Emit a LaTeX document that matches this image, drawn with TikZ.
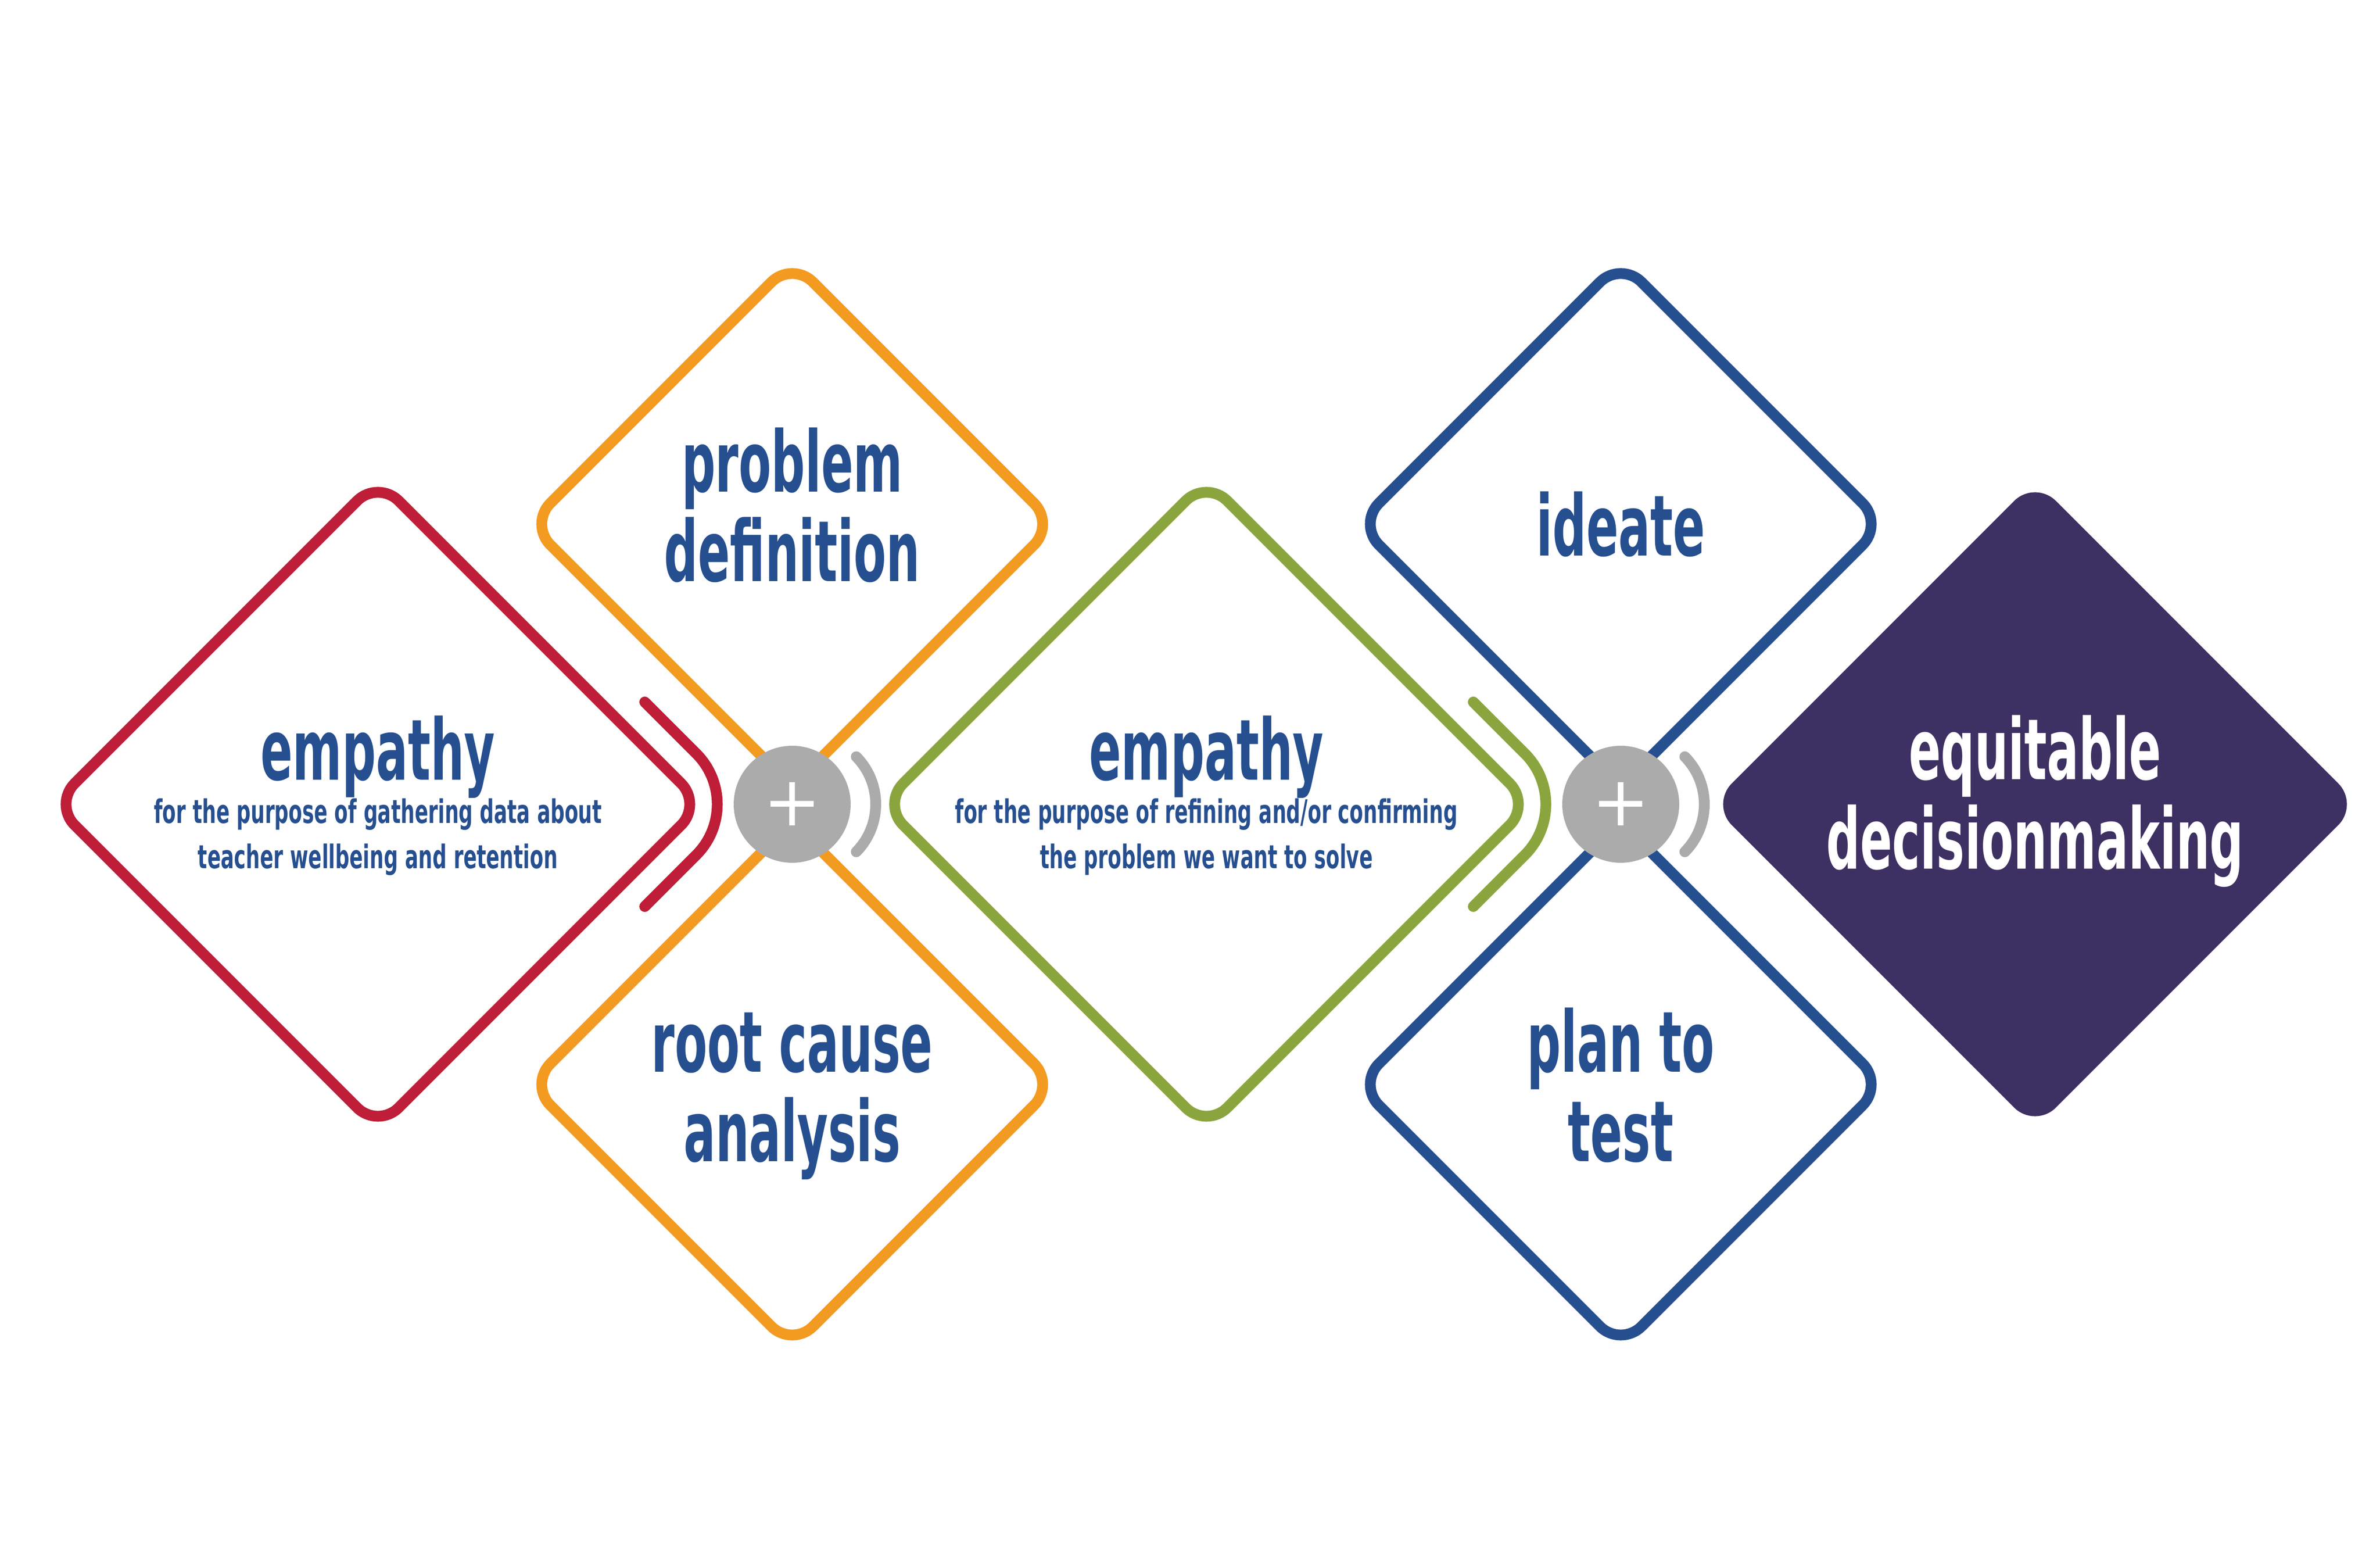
\documentclass[tikz,border=0pt]{standalone}
\usepackage{fontspec}
\usepackage{tikz}
\usetikzlibrary{shapes,positioning}
\newfontfamily\headfont[FakeStretch=0.56]{DejaVu Sans}
\newfontfamily\subfont[FakeStretch=0.61]{DejaVu Sans}
\newfontfamily\plusfont{DejaVu Sans}
\definecolor{redline}{HTML}{BE1E37}
\definecolor{orangeline}{HTML}{F39A21}
\definecolor{greenline}{HTML}{8BA53E}
\definecolor{blueline}{HTML}{264F90}
\definecolor{purplefill}{HTML}{3D3062}
\definecolor{plusgray}{HTML}{ABABAB}
\tikzstyle{dia}=[
	diamond,
	aspect=1,
	inner sep=0pt,
	rounded corners=6mm,
	line width=2.2mm
]
\tikzstyle{bigdia}=[
	dia,
	minimum width=132.8mm,
	minimum height=132.8mm
]
\tikzstyle{smalldia}=[
	dia,
	minimum width=107.8mm,
	minimum height=107.8mm
]
\tikzstyle{plusdot}=[
	circle,
	fill=plusgray,
	minimum size=23.8mm,
	inner sep=0pt,
	text=white,
	font=\plusfont\fontsize{39.9pt}{40pt}\selectfont
]
\tikzstyle{bigtext}=[
	anchor=base,
	inner sep=0pt,
	text=blueline,
	font=\headfont\bfseries\fontsize{48.9pt}{50pt}\selectfont
]
\tikzstyle{smalltext}=[
	anchor=base,
	inner sep=0pt,
	text=blueline,
	font=\subfont\bfseries\fontsize{18.8pt}{19pt}\selectfont
]
\tikzstyle{chevline}=[
	line width=2.2mm,
	line cap=round,
	rounded corners=14.6mm
]
\tikzstyle{echoarc}=[
	line width=2.2mm,
	line cap=round,
	draw=plusgray
]
\begin{document}
\begin{tikzpicture}[node distance=84.3mm, on grid]
\useasboundingbox (-76.9mm,-152.3mm) rectangle (407.4mm,163.6mm);

\node[bigdia, draw=redline] (emp1) {};
\node[smalldia, draw=orangeline, above right=57mm and 84.3mm of emp1] (probdef) {};
\node[smalldia, draw=orangeline, below=114mm of probdef] (rootcause) {};
\node[bigdia, draw=greenline, right=168.6mm of emp1] (emp2) {};
\node[smalldia, draw=blueline, above right=57mm and 84.3mm of emp2] (ideate) {};
\node[smalldia, draw=blueline, below=114mm of ideate] (plantest) {};
\node[bigdia, fill=purplefill, right=168.6mm of emp2] (equit) {};
\node[plusdot, below=57mm of probdef] (plus1) {+};
\node[plusdot, below=57mm of ideate] (plus2) {+};

\node[bigtext] (emp1a) at ([yshift=4.9mm]emp1.center) {empathy};
\node[smalltext] (emp1b) at ([yshift=-3.9mm]emp1.center) {for the purpose of gathering data about};
\node[smalltext] (emp1c) at ([yshift=-13.1mm]emp1.center) {teacher wellbeing and retention};
\node[bigtext] (probdefa) at ([yshift=6.5mm]probdef.center) {problem};
\node[bigtext] (probdefb) at ([yshift=-11.7mm]probdef.center) {definition};
\node[bigtext] (rootcausea) at ([yshift=2.5mm]rootcause.center) {root cause};
\node[bigtext] (rootcauseb) at ([yshift=-15.7mm]rootcause.center) {analysis};
\node[bigtext] (emp2a) at ([yshift=4.9mm]emp2.center) {empathy};
\node[smalltext] (emp2b) at ([yshift=-3.9mm]emp2.center) {for the purpose of refining and/or confirming};
\node[smalltext] (emp2c) at ([yshift=-13.1mm]emp2.center) {the problem we want to solve};
\node[bigtext] (ideatea) at ([yshift=-6.5mm]ideate.center) {ideate};
\node[bigtext] (plantesta) at ([yshift=2.5mm]plantest.center) {plan to};
\node[bigtext] (plantestb) at ([yshift=-15.7mm]plantest.center) {test};
\node[bigtext, text=white] (equita) at ([yshift=5mm]equit.center) {equitable};
\node[bigtext, text=white] (equitb) at ([yshift=-13.2mm]equit.center) {decisionmaking};

\draw[chevline, redline] ([shift={(54.3mm,20.8mm)}]emp1.center) -- ([shift={(75.1mm,0mm)}]emp1.center) -- ([shift={(54.3mm,-20.8mm)}]emp1.center);
\draw[chevline, greenline] ([shift={(54.3mm,20.8mm)}]emp2.center) -- ([shift={(75.1mm,0mm)}]emp2.center) -- ([shift={(54.3mm,-20.8mm)}]emp2.center);

\draw[echoarc] ([shift={(3.2mm,0mm)},shift={(44.5:13.8mm)}]plus1.center) arc[start angle=44.5, end angle=-44.5, radius=13.8mm];
\draw[echoarc] ([shift={(3.2mm,0mm)},shift={(44.5:13.8mm)}]plus2.center) arc[start angle=44.5, end angle=-44.5, radius=13.8mm];

\end{tikzpicture}
\end{document}
